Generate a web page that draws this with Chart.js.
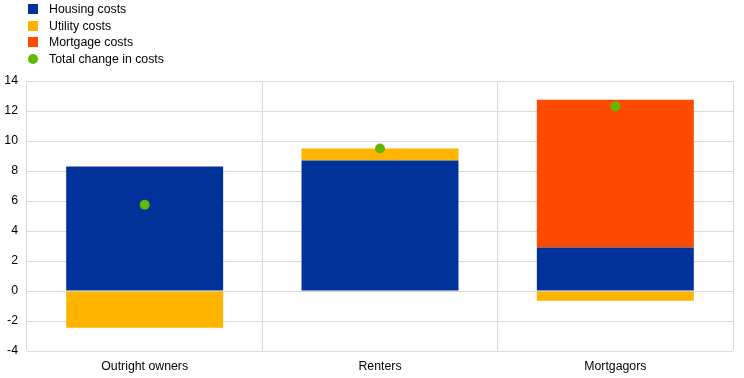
<!DOCTYPE html>
<html>
<head>
<meta charset="utf-8">
<script src="https://cdn.jsdelivr.net/npm/chart.js@4/dist/chart.umd.min.js"></script>
<style>
  html, body { margin: 0; padding: 0; background: #fff; }
  #wrap { position: relative; width: 744px; height: 378px; }
  #legend { position: absolute; left: 28px; top: 1px; font-family: "Liberation Sans", Arial, sans-serif; font-size: 12.3px; color: #000; }
  .row { height: 16.5px; display: flex; align-items: center; }
  .sw { width: 10px; height: 10px; margin-right: 11px; flex: none; }
  .dot { border-radius: 50%; }
</style>
</head>
<body>
<div id="wrap">
  <canvas id="c" width="744" height="378"></canvas>
  <div id="legend"></div>
</div>
<script>
const categories = ["Outright owners", "Renters", "Mortgagors"];
const housingCosts = [8.3, 8.7, 2.9];
const utilityCosts = [-2.45, 0.8, -0.65];
const mortgageCosts = [0, 0, 9.85];
const totalChange = [5.75, 9.5, 12.3];
const seriesLabels = ["Housing costs", "Utility costs", "Mortgage costs", "Total change in costs"];
const colors = ["#003299", "#FFB400", "#FF4B00", "#65B800"];

const font = { family: "'Liberation Sans', Arial, sans-serif", size: 12.3 };

const chart = new Chart(document.getElementById("c"), {
  type: "bar",
  data: {
    labels: categories,
    datasets: [
      { type: "line", label: seriesLabels[3], data: totalChange, showLine: false, pointRadius: 5, pointHoverRadius: 5,
        pointBackgroundColor: colors[3], pointBorderWidth: 0, backgroundColor: colors[3], borderColor: colors[3], stack: "total", order: 0 },
      { label: seriesLabels[0], data: housingCosts, backgroundColor: colors[0], stack: "bars", order: 1 },
      { label: seriesLabels[1], data: utilityCosts, backgroundColor: colors[1], stack: "bars", order: 1 },
      { label: seriesLabels[2], data: mortgageCosts, backgroundColor: colors[2], stack: "bars", order: 1 }
    ]
  },
  options: {
    responsive: false,
    animation: false,
    layout: { padding: { top: 81, left: 0, right: 11, bottom: 0 } },
    plugins: { legend: { display: false }, tooltip: { enabled: false } },
    datasets: { bar: { categoryPercentage: 1, barPercentage: 0.667 } },
    scales: {
      x: {
        stacked: true,
        offset: true,
        grid: { offset: true, color: "#d9d9d9", drawTicks: false, lineWidth: 1 },
        border: { display: false },
        ticks: { color: "#000", font: font, padding: 8 },
        afterFit: (s) => { s.height = 27; }
      },
      y: {
        stacked: true,
        min: -4, max: 14,
        ticks: { stepSize: 2, color: "#000", font: font, padding: 9 },
        grid: { color: "#d9d9d9", drawTicks: false, lineWidth: 1 },
        border: { display: false },
        afterFit: (s) => { s.width = 27; }
      }
    }
  }
});

// HTML legend built from dataset labels / colours
const legend = document.getElementById("legend");
[0, 1, 2, 3].forEach(i => {
  const row = document.createElement("div");
  row.className = "row";
  const sw = document.createElement("span");
  sw.className = "sw" + (i === 3 ? " dot" : "");
  sw.style.background = colors[i];
  const t = document.createElement("span");
  t.textContent = seriesLabels[i];
  row.appendChild(sw); row.appendChild(t);
  legend.appendChild(row);
});
</script>
</body>
</html>
